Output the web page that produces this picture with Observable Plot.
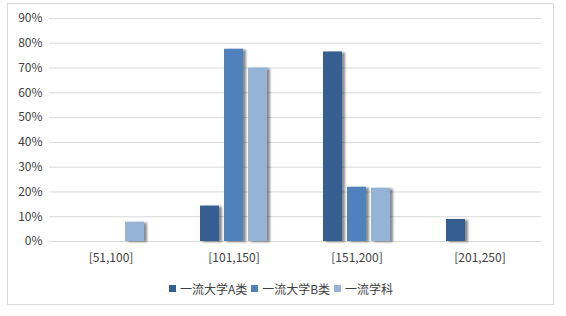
<!DOCTYPE html>
<html>
<head>
<meta charset="utf-8">
<script src="https://cdn.jsdelivr.net/npm/d3@7"></script>
<script src="https://cdn.jsdelivr.net/npm/@observablehq/plot@0.6"></script>
<style>
  html, body { margin: 0; padding: 0; background: #fff; }
  body { width: 566px; height: 316px; position: relative; overflow: hidden;
         font-family: "Noto Sans CJK SC", "Noto Sans", sans-serif; }
  #frame { position: absolute; left: 7px; top: 3px; width: 547px; height: 302px;
           border: 1px solid #d9d9d9; box-sizing: border-box; }
  #chart { position: absolute; left: 0; top: 0; }
  #legend { position: absolute; left: 7px; width: 548px; top: 280px; display: flex;
            justify-content: center; align-items: center; font-size: 12px; color: #404040; }
  #legend .item { display: flex; align-items: center; margin: 0 2px; }
  #legend .sw { width: 7px; height: 7px; margin-right: 4px; }
</style>
</head>
<body>
<div id="frame"></div>
<div id="chart"></div>
<div id="legend"></div>
<script>
const categories = ["[51,100]", "[101,150]", "[151,200]", "[201,250]"];
const series = ["一流大学A类", "一流大学B类", "一流学科"];
const valuesA = [0, 0.143, 0.765, 0.089];
const valuesB = [0, 0.776, 0.219, 0];
const valuesC = [0.078, 0.700, 0.215, 0];
const colors = ["#365F91", "#4F81BD", "#95B3D7"];
const yTicks = [0, 0.1, 0.2, 0.3, 0.4, 0.5, 0.6, 0.7, 0.8, 0.9];

const allValues = [valuesA, valuesB, valuesC];
const data = [];
categories.forEach((c, i) => {
  series.forEach((s, j) => {
    data.push({category: c, series: s, value: allValues[j][i]});
  });
});
const bars = data.filter(d => d.value > 0);

const plot = Plot.plot({
  width: 566,
  height: 270,
  marginLeft: 49,
  marginRight: 25,
  marginTop: 18,
  marginBottom: 29,
  style: {fontFamily: '"Noto Sans CJK SC", "Noto Sans", sans-serif', fontSize: "12px", color: "#404040", background: "transparent"},
  fx: {domain: categories, padding: 0, label: null, tickSize: 0, tickPadding: 12, axis: "bottom"},
  x: {domain: series, axis: null, paddingInner: 0.2, paddingOuter: 1.11},
  y: {domain: [0, 0.9], ticks: yTicks, tickFormat: d3.format(".0%"), label: null, tickSize: 0, tickPadding: 7},
  color: {domain: series, range: colors},
  marks: [
    Plot.gridY(yTicks, {stroke: "#d9d9d9", strokeOpacity: 1}),
    Plot.barY(bars, {fx: "category", x: "series", y: "value", fill: "series"})
  ]
});
document.getElementById("chart").appendChild(plot);

// drop shadow for bars
const ns = "http://www.w3.org/2000/svg";
const defs = document.createElementNS(ns, "defs");
defs.innerHTML = `<filter id="sh" x="-50%" y="-20%" width="200%" height="140%">
  <feGaussianBlur in="SourceAlpha" stdDeviation="1.3"/>
  <feOffset dx="3" dy="1" result="o"/>
  <feComponentTransfer><feFuncA type="linear" slope="0.45"/></feComponentTransfer>
  <feMerge><feMergeNode/><feMergeNode in="SourceGraphic"/></feMerge>
</filter>`;
plot.insertBefore(defs, plot.firstChild);
plot.querySelectorAll('g[aria-label="bar"]').forEach(g => g.setAttribute("filter", "url(#sh)"));

const legend = document.getElementById("legend");
series.forEach((s, i) => {
  const item = document.createElement("div");
  item.className = "item";
  item.innerHTML = `<span class="sw" style="background:${colors[i]}"></span><span>${s}</span>`;
  legend.appendChild(item);
});
</script>
</body>
</html>
